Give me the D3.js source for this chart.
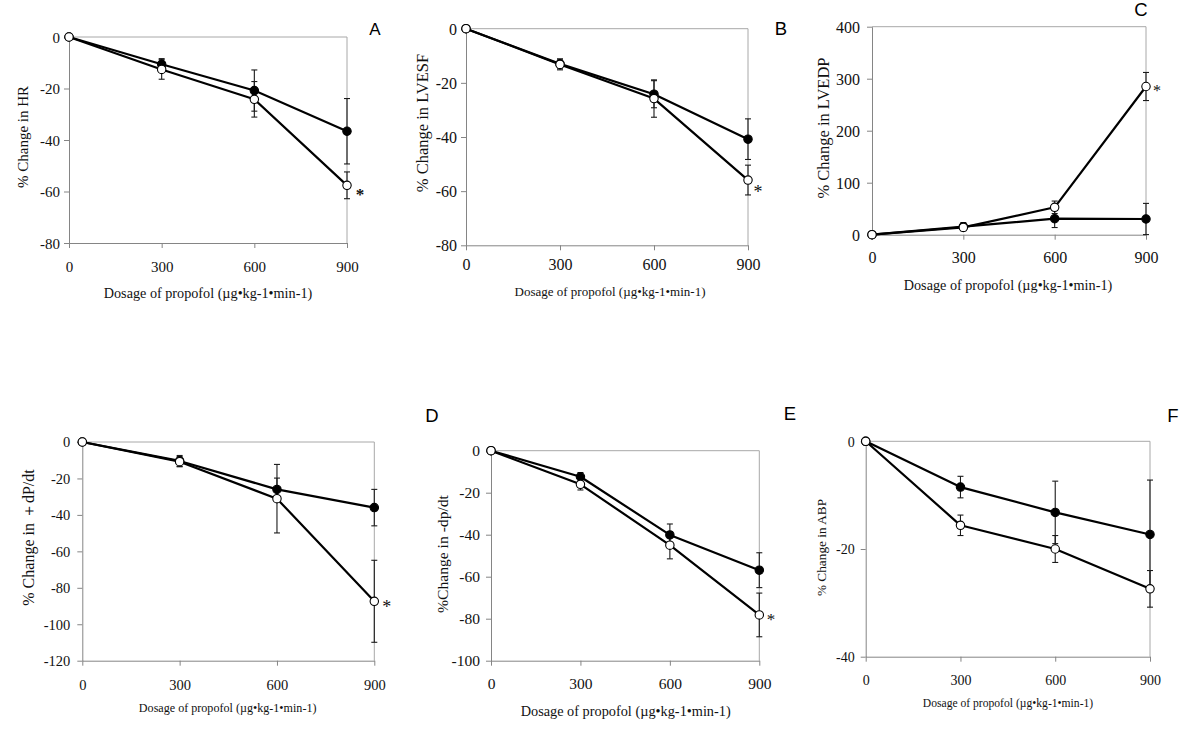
<!DOCTYPE html>
<html>
<head>
<meta charset="utf-8">
<script src="https://cdn.jsdelivr.net/npm/d3@7"></script>
<style>
  html, body { margin: 0; padding: 0; background: #ffffff; }
  svg { display: block; }
  .serif { font-family: "Liberation Serif", "Times New Roman", serif; }
  .sans { font-family: "Liberation Sans", Arial, sans-serif; }
</style>
</head>
<body>
<svg id="chart" width="1200" height="739"></svg>
<script>
// ---------------- DATA ----------------
const doses = [0, 300, 600, 900];
const xTickLabels = ["0", "300", "600", "900"];
const xAxisTitle = "Dosage of propofol (\u00b5g\u2022kg-1\u2022min-1)";

// A: heart rate
const hrFilled   = [0, -10.6, -20.8, -36.6];
const hrFilledSE = [0, 2.2, 8.0, 12.7];
const hrOpen     = [0, -12.6, -24.2, -57.6];
const hrOpenSE   = [0, 3.8, 6.9, 5.2];
const hrTicks    = [0, -20, -40, -60, -80];

// B: LVESF
const lvesfFilled   = [0, -13.0, -24.2, -40.8];
const lvesfFilledSE = [0, 1.8, 5.0, 7.5];
const lvesfOpen     = [0, -13.2, -25.8, -55.9];
const lvesfOpenSE   = [0, 2.0, 6.9, 5.5];
const lvesfTicks    = [0, -20, -40, -60, -80];

// C: LVEDP
const lvedpFilled   = [0, 15.4, 30.8, 30.2];
const lvedpFilledSE = [0, 8, 17, 30];
const lvedpOpen     = [0, 14, 52.7, 285];
const lvedpOpenSE   = [0, 5, 12, 27];
const lvedpTicks    = [0, 100, 200, 300, 400];

// D: +dP/dt
const dpPosFilled   = [0, -10.4, -26.0, -36.0];
const dpPosFilledSE = [0, 3.0, 6.2, 10.0];
const dpPosOpen     = [0, -10.8, -31.1, -87.4];
const dpPosOpenSE   = [0, 2.8, 18.8, 22.5];
const dpPosTicks    = [0, -20, -40, -60, -80, -100, -120];

// E: -dp/dt
const dpNegFilled   = [0, -12.4, -40.1, -56.9];
const dpNegFilledSE = [0, 2.0, 5.2, 8.3];
const dpNegOpen     = [0, -16.0, -45.0, -78.2];
const dpNegOpenSE   = [0, 2.7, 6.5, 10.4];
const dpNegTicks    = [0, -20, -40, -60, -80, -100];

// F: ABP
const abpFilled   = [0, -8.5, -13.2, -17.3];
const abpFilledSE = [0, 2.0, 5.8, 10.1];
const abpOpen     = [0, -15.6, -20.0, -27.4];
const abpOpenSE   = [0, 1.9, 2.5, 3.4];
const abpTicks    = [0, -20, -40];

const panelLetters = ["A", "B", "C", "D", "E", "F"];
const yTitles = ["% Change in HR", "% Change in LVESF", "% Change in LVEDP",
                 "% Change in \uff0bdP/dt", "%Change in -dp/dt", "% Change in ABP"];

// ---------------- LAYOUT ----------------
const panels = [
  { filled: hrFilled, filledSE: hrFilledSE, open: hrOpen, openSE: hrOpenSE, ticks: hrTicks, domain: [-80, 0],
    x0: 69, x1: 347, yTop: 37, yBot: 243, tickFs: 15, yPadR: 9, xLabCY: 267,
    title: yTitles[0], tX: 23, tY: 137, tFs: 15,
    xtX: 208, xtY: 293, xtFs: 14.2,
    letter: panelLetters[0], lX: 375, lY: 35, lFs: 17,
    star: true, sX: 360, sY: 190.7, sFs: 17, sBold: true },
  { filled: lvesfFilled, filledSE: lvesfFilledSE, open: lvesfOpen, openSE: lvesfOpenSE, ticks: lvesfTicks, domain: [-80, 0],
    x0: 466, x1: 748, yTop: 28.7, yBot: 245.3, tickFs: 16, yPadR: 9, xLabCY: 265,
    title: yTitles[1], tX: 423, tY: 123, tFs: 16.5,
    xtX: 610, xtY: 291.7, xtFs: 13,
    letter: panelLetters[1], lX: 781, lY: 35, lFs: 18.5,
    star: true, sX: 758, sY: 188, sFs: 18, sBold: false },
  { filled: lvedpFilled, filledSE: lvedpFilledSE, open: lvedpOpen, openSE: lvedpOpenSE, ticks: lvedpTicks, domain: [0, 400],
    x0: 872, x1: 1146, yTop: 26.7, yBot: 234.7, tickFs: 16, yPadR: 12, xLabCY: 258,
    title: yTitles[2], tX: 824, tY: 128, tFs: 16.5,
    xtX: 1008, xtY: 285, xtFs: 14.2,
    letter: panelLetters[2], lX: 1141, lY: 16, lFs: 18.5,
    star: true, sX: 1157, sY: 87, sFs: 16, sBold: false },
  { filled: dpPosFilled, filledSE: dpPosFilledSE, open: dpPosOpen, openSE: dpPosOpenSE, ticks: dpPosTicks, domain: [-120, 0],
    x0: 82.3, x1: 374.3, yTop: 442, yBot: 660.7, tickFs: 14.5, yPadR: 12, xLabCY: 685,
    title: yTitles[3], tX: 29, tY: 537.5, tFs: 16,
    xtX: 227.7, xtY: 707.7, xtFs: 12.1,
    letter: panelLetters[3], lX: 432, lY: 421.7, lFs: 18.5,
    star: true, sX: 386.7, sY: 602.7, sFs: 18, sBold: false },
  { filled: dpNegFilled, filledSE: dpNegFilledSE, open: dpNegOpen, openSE: dpNegOpenSE, ticks: dpNegTicks, domain: [-100, 0],
    x0: 491, x1: 759.3, yTop: 450.7, yBot: 660.7, tickFs: 15.5, yPadR: 11, xLabCY: 684,
    title: yTitles[4], tX: 443, tY: 554, tFs: 15.6,
    xtX: 625.7, xtY: 711, xtFs: 14.3,
    letter: panelLetters[4], lX: 790, lY: 420, lFs: 18.5,
    star: true, sX: 771, sY: 616, sFs: 17, sBold: false },
  { filled: abpFilled, filledSE: abpFilledSE, open: abpOpen, openSE: abpOpenSE, ticks: abpTicks, domain: [-40, 0],
    x0: 865.7, x1: 1150, yTop: 441.3, yBot: 656.7, tickFs: 14, yPadR: 11, xLabCY: 680,
    title: yTitles[5], tX: 822, tY: 547.5, tFs: 13.3,
    xtX: 1008, xtY: 702.7, xtFs: 11.6,
    letter: panelLetters[5], lX: 1173, lY: 421.7, lFs: 18.5,
    star: false }
];

const svg = d3.select("#chart");
const SERIF = '"Liberation Serif", "Times New Roman", serif';
const SANS = '"Liberation Sans", Arial, sans-serif';
const AXIS_COLOR = "#858585";
const BOX_COLOR = "#a8a8a8";
const TICK = 5;

panels.forEach(p => {
  const x = d3.scaleLinear().domain([0, 900]).range([p.x0, p.x1]);
  const y = d3.scaleLinear().domain(p.domain).range([p.yBot, p.yTop]);
  const g = svg.append("g");

  // plot box (top & right)
  g.append("path")
    .attr("d", `M${p.x0},${p.yTop}H${p.x1}V${p.yBot}`)
    .attr("fill", "none").attr("stroke", BOX_COLOR).attr("stroke-width", 1);

  // y axis
  const yAxis = d3.axisLeft(y).tickValues(p.ticks).tickSize(TICK).tickSizeOuter(0)
    .tickPadding(p.yPadR - TICK).tickFormat(d => String(d));
  const ya = g.append("g").attr("transform", `translate(${p.x0},0)`).call(yAxis);
  ya.attr("font-family", null).attr("font-size", null);
  ya.select(".domain").attr("stroke", AXIS_COLOR);
  ya.selectAll(".tick line").attr("stroke", AXIS_COLOR);
  ya.selectAll(".tick text").attr("class", "serif")
    .style("font-family", SERIF).style("font-size", p.tickFs + "px")
    .attr("fill", "#111").attr("dy", "0.34em");

  // x axis
  const axisY = y(p.domain[0]);
  const xPad = (p.xLabCY - axisY) - 0.38 * p.tickFs - TICK;
  const xAxis = d3.axisBottom(x).tickValues(doses).tickSize(TICK).tickSizeOuter(0)
    .tickPadding(xPad).tickFormat((d, i) => xTickLabels[i]);
  const xa = g.append("g").attr("transform", `translate(0,${axisY})`).call(xAxis);
  xa.attr("font-family", null).attr("font-size", null);
  xa.select(".domain").attr("stroke", AXIS_COLOR);
  xa.selectAll(".tick line").attr("stroke", AXIS_COLOR);
  xa.selectAll(".tick text").attr("class", "serif")
    .style("font-family", SERIF).style("font-size", p.tickFs + "px").attr("fill", "#111");

  // series
  const series = [
    { vals: p.filled, se: p.filledSE, fill: "#000" },
    { vals: p.open, se: p.openSE, fill: "#fff" }
  ];

  // error bars
  series.forEach(s => {
    const pts = doses.map((d, i) => ({ d, v: s.vals[i], e: s.se[i] })).filter(o => o.e > 0);
    const eg = g.append("g").attr("stroke", "#1a1a1a").attr("stroke-width", 1.1);
    eg.selectAll("line.v").data(pts).join("line")
      .attr("x1", o => x(o.d)).attr("x2", o => x(o.d))
      .attr("y1", o => y(o.v - o.e)).attr("y2", o => y(o.v + o.e));
    eg.selectAll("line.t").data(pts).join("line")
      .attr("x1", o => x(o.d) - 3).attr("x2", o => x(o.d) + 3)
      .attr("y1", o => y(o.v + o.e)).attr("y2", o => y(o.v + o.e));
    eg.selectAll("line.b").data(pts).join("line")
      .attr("x1", o => x(o.d) - 3).attr("x2", o => x(o.d) + 3)
      .attr("y1", o => y(o.v - o.e)).attr("y2", o => y(o.v - o.e));
  });

  // lines
  const line = d3.line().x((v, i) => x(doses[i])).y(v => y(v));
  series.forEach(s => {
    g.append("path").attr("d", line(s.vals)).attr("fill", "none")
      .attr("stroke", "#000").attr("stroke-width", 2.2).attr("stroke-linejoin", "round");
  });

  // markers
  series.forEach(s => {
    g.selectAll(null).data(s.vals).join("circle")
      .attr("cx", (v, i) => x(doses[i])).attr("cy", v => y(v)).attr("r", 4.2)
      .attr("fill", s.fill).attr("stroke", "#000").attr("stroke-width", 1.1);
  });

  // y title
  g.append("text").attr("class", "serif")
    .attr("transform", `translate(${p.tX},${p.tY}) rotate(-90)`)
    .attr("text-anchor", "middle").attr("dy", "0.33em")
    .style("font-family", SERIF).style("font-size", p.tFs + "px").attr("fill", "#111")
    .text(p.title);

  // x title
  g.append("text").attr("class", "serif")
    .attr("x", p.xtX).attr("y", p.xtY).attr("dy", "0.33em")
    .attr("text-anchor", "middle")
    .style("font-family", SERIF).style("font-size", p.xtFs + "px").attr("fill", "#111")
    .text(xAxisTitle);

  // panel letter
  g.append("text").attr("class", "sans")
    .attr("x", p.lX).attr("y", p.lY).attr("text-anchor", "middle")
    .style("font-family", SANS).style("font-size", p.lFs + "px").attr("fill", "#000")
    .text(p.letter);

  // significance asterisk
  if (p.star) {
    g.append("text").attr("class", "serif")
      .attr("x", p.sX).attr("y", p.sY).attr("dy", "0.55em")
      .attr("text-anchor", "middle")
      .style("font-family", SERIF).style("font-size", p.sFs + "px")
      .style("font-weight", p.sBold ? "bold" : "normal").attr("fill", "#111")
      .text("*");
  }
});
</script>
</body>
</html>
